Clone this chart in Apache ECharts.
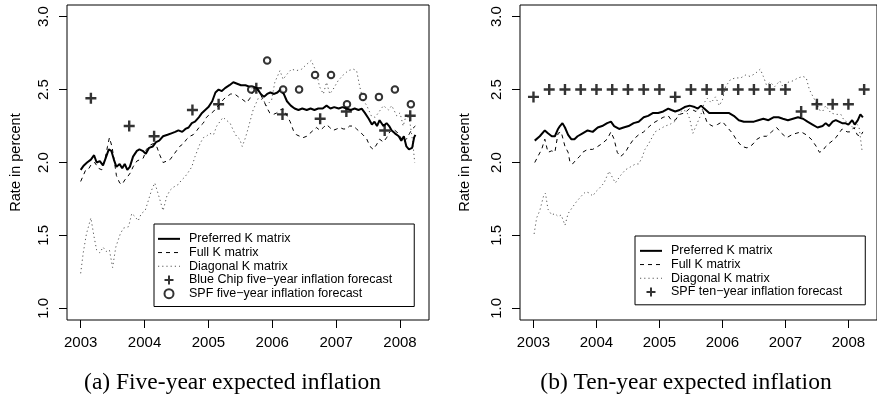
<!DOCTYPE html>
<html><head><meta charset="utf-8">
<script src="https://cdn.jsdelivr.net/npm/echarts@6/dist/echarts.min.js"></script>
<style>html,body{margin:0;padding:0;background:#fff}#c{width:877px;height:396px}</style>
</head><body><div id="c"></div>
<script>
// ---------- tick labels ----------
const xTicks = [2003, 2004, 2005, 2006, 2007, 2008];
const xTickLabels = ['2003', '2004', '2005', '2006', '2007', '2008'];
const yTicks = [1.0, 1.5, 2.0, 2.5, 3.0];
const yTickLabels = ['1.0', '1.5', '2.0', '2.5', '3.0'];

// ---------- panel (a): five-year expected inflation ----------
const prefA = [[2003.00,1.95],[2003.05,1.98],[2003.10,2.00],[2003.16,2.02],[2003.21,2.05],[2003.25,2.00],[2003.30,2.01],[2003.35,1.98],[2003.40,2.04],[2003.44,2.09],[2003.48,2.08],[2003.52,2.02],[2003.56,1.97],[2003.61,1.99],[2003.65,1.96],[2003.69,1.99],[2003.73,1.95],[2003.77,1.97],[2003.82,2.04],[2003.88,2.08],[2003.92,2.09],[2003.97,2.08],[2004.02,2.06],[2004.07,2.10],[2004.13,2.11],[2004.18,2.14],[2004.23,2.15],[2004.29,2.18],[2004.36,2.19],[2004.42,2.20],[2004.48,2.21],[2004.53,2.22],[2004.59,2.21],[2004.64,2.23],[2004.69,2.24],[2004.74,2.27],[2004.79,2.28],[2004.85,2.31],[2004.90,2.34],[2004.95,2.36],[2005.00,2.38],[2005.06,2.42],[2005.11,2.48],[2005.16,2.50],[2005.21,2.49],[2005.26,2.51],[2005.33,2.53],[2005.39,2.55],[2005.45,2.54],[2005.51,2.53],[2005.58,2.53],[2005.64,2.52],[2005.70,2.52],[2005.76,2.51],[2005.82,2.47],[2005.87,2.45],[2005.92,2.47],[2005.97,2.48],[2006.03,2.47],[2006.08,2.48],[2006.13,2.50],[2006.18,2.47],[2006.23,2.42],[2006.29,2.39],[2006.35,2.37],[2006.41,2.36],[2006.47,2.37],[2006.54,2.36],[2006.60,2.37],[2006.66,2.36],[2006.72,2.37],[2006.79,2.37],[2006.85,2.39],[2006.91,2.37],[2006.97,2.38],[2007.04,2.37],[2007.10,2.38],[2007.16,2.37],[2007.23,2.36],[2007.29,2.37],[2007.35,2.36],[2007.40,2.37],[2007.45,2.34],[2007.51,2.30],[2007.56,2.26],[2007.60,2.28],[2007.64,2.25],[2007.68,2.29],[2007.74,2.25],[2007.79,2.27],[2007.83,2.25],[2007.87,2.22],[2007.92,2.20],[2007.98,2.18],[2008.02,2.15],[2008.06,2.18],[2008.10,2.11],[2008.14,2.09],[2008.19,2.10],[2008.22,2.17],[2008.24,2.19]];
const fullA = [[2003.00,1.87],[2003.04,1.91],[2003.08,1.95],[2003.13,1.96],[2003.17,1.99],[2003.22,2.00],[2003.28,1.96],[2003.33,1.95],[2003.38,2.02],[2003.42,2.11],[2003.45,2.17],[2003.49,2.11],[2003.52,2.03],[2003.56,1.91],[2003.61,1.86],[2003.65,1.85],[2003.69,1.88],[2003.73,1.90],[2003.78,1.93],[2003.82,1.97],[2003.88,2.01],[2003.93,2.02],[2003.98,2.03],[2004.03,2.09],[2004.09,2.12],[2004.14,2.13],[2004.19,2.11],[2004.24,2.05],[2004.29,2.00],[2004.35,2.01],[2004.40,2.02],[2004.45,2.05],[2004.50,2.08],[2004.55,2.11],[2004.61,2.13],[2004.66,2.16],[2004.71,2.18],[2004.76,2.19],[2004.82,2.22],[2004.87,2.25],[2004.92,2.27],[2004.97,2.31],[2005.02,2.33],[2005.08,2.35],[2005.13,2.38],[2005.18,2.40],[2005.23,2.43],[2005.28,2.45],[2005.35,2.47],[2005.41,2.47],[2005.47,2.45],[2005.54,2.43],[2005.60,2.41],[2005.65,2.44],[2005.70,2.49],[2005.75,2.51],[2005.81,2.47],[2005.86,2.43],[2005.91,2.38],[2005.96,2.34],[2006.02,2.33],[2006.07,2.34],[2006.12,2.36],[2006.17,2.37],[2006.22,2.33],[2006.28,2.28],[2006.33,2.22],[2006.38,2.19],[2006.43,2.18],[2006.48,2.17],[2006.54,2.18],[2006.59,2.20],[2006.64,2.22],[2006.69,2.24],[2006.75,2.22],[2006.80,2.24],[2006.85,2.26],[2006.90,2.24],[2006.95,2.22],[2007.01,2.23],[2007.06,2.24],[2007.11,2.23],[2007.16,2.23],[2007.21,2.25],[2007.27,2.25],[2007.32,2.23],[2007.37,2.21],[2007.42,2.19],[2007.48,2.16],[2007.53,2.11],[2007.58,2.09],[2007.63,2.12],[2007.68,2.16],[2007.74,2.14],[2007.79,2.17],[2007.84,2.21],[2007.89,2.23],[2007.95,2.21],[2008.00,2.18],[2008.05,2.14],[2008.10,2.16],[2008.15,2.20],[2008.19,2.23],[2008.24,2.25]];
const diagA = [[2003.00,1.24],[2003.04,1.38],[2003.09,1.51],[2003.16,1.62],[2003.21,1.49],[2003.25,1.40],[2003.30,1.38],[2003.35,1.42],[2003.40,1.39],[2003.45,1.40],[2003.50,1.28],[2003.55,1.42],[2003.62,1.51],[2003.67,1.55],[2003.75,1.56],[2003.80,1.65],[2003.85,1.63],[2003.90,1.60],[2003.95,1.65],[2004.01,1.67],[2004.06,1.74],[2004.11,1.81],[2004.16,1.86],[2004.21,1.79],[2004.29,1.67],[2004.35,1.77],[2004.40,1.81],[2004.45,1.83],[2004.53,1.85],[2004.58,1.88],[2004.63,1.90],[2004.68,1.93],[2004.74,1.97],[2004.79,2.04],[2004.87,2.13],[2004.92,2.17],[2004.97,2.18],[2005.02,2.20],[2005.08,2.19],[2005.13,2.25],[2005.18,2.28],[2005.23,2.31],[2005.28,2.29],[2005.34,2.27],[2005.39,2.22],[2005.44,2.18],[2005.49,2.16],[2005.53,2.11],[2005.58,2.17],[2005.62,2.23],[2005.70,2.36],[2005.78,2.44],[2005.86,2.43],[2005.91,2.39],[2005.99,2.43],[2006.04,2.55],[2006.12,2.63],[2006.17,2.57],[2006.22,2.60],[2006.30,2.64],[2006.38,2.63],[2006.46,2.64],[2006.53,2.67],[2006.61,2.70],[2006.69,2.62],[2006.74,2.52],[2006.80,2.47],[2006.85,2.55],[2006.90,2.47],[2006.95,2.50],[2007.03,2.56],[2007.11,2.60],[2007.19,2.63],[2007.27,2.64],[2007.32,2.63],[2007.37,2.52],[2007.42,2.43],[2007.48,2.39],[2007.55,2.32],[2007.61,2.31],[2007.66,2.34],[2007.74,2.39],[2007.82,2.36],[2007.87,2.39],[2007.95,2.32],[2008.00,2.34],[2008.05,2.25],[2008.10,2.33],[2008.15,2.29],[2008.20,2.14],[2008.23,2.00]];
const blueChipA = [[2003.16,2.44],[2003.76,2.25],[2004.15,2.18],[2004.75,2.36],[2005.16,2.40],[2005.75,2.51],[2006.16,2.33],[2006.75,2.30],[2007.16,2.35],[2007.76,2.22],[2008.16,2.32]];
const spfA = [[2005.67,2.50],[2005.92,2.70],[2006.17,2.50],[2006.42,2.50],[2006.67,2.60],[2006.92,2.60],[2007.17,2.40],[2007.42,2.45],[2007.67,2.45],[2007.92,2.50],[2008.17,2.40]];

// ---------- panel (b): ten-year expected inflation ----------
const prefB = [[2003.02,2.15],[2003.10,2.18],[2003.18,2.22],[2003.23,2.20],[2003.29,2.18],[2003.34,2.18],[2003.39,2.23],[2003.42,2.25],[2003.46,2.27],[2003.50,2.24],[2003.55,2.19],[2003.60,2.16],[2003.65,2.16],[2003.70,2.18],[2003.78,2.20],[2003.86,2.22],[2003.94,2.21],[2004.02,2.24],[2004.09,2.25],[2004.17,2.27],[2004.23,2.28],[2004.28,2.25],[2004.36,2.23],[2004.43,2.24],[2004.51,2.25],[2004.59,2.27],[2004.67,2.28],[2004.75,2.31],[2004.82,2.32],[2004.90,2.34],[2004.98,2.34],[2005.06,2.35],[2005.14,2.37],[2005.19,2.36],[2005.25,2.35],[2005.32,2.36],[2005.40,2.38],[2005.48,2.39],[2005.56,2.38],[2005.61,2.37],[2005.66,2.39],[2005.71,2.37],[2005.79,2.34],[2005.87,2.34],[2005.94,2.34],[2006.02,2.34],[2006.10,2.34],[2006.18,2.32],[2006.26,2.29],[2006.34,2.28],[2006.42,2.28],[2006.50,2.28],[2006.57,2.29],[2006.65,2.30],[2006.73,2.29],[2006.81,2.31],[2006.89,2.31],[2006.96,2.30],[2007.04,2.29],[2007.12,2.30],[2007.20,2.31],[2007.28,2.30],[2007.35,2.28],[2007.43,2.26],[2007.51,2.24],[2007.59,2.25],[2007.64,2.27],[2007.69,2.25],[2007.75,2.28],[2007.80,2.29],[2007.85,2.28],[2007.90,2.27],[2007.95,2.27],[2008.00,2.26],[2008.06,2.29],[2008.10,2.26],[2008.15,2.29],[2008.19,2.33],[2008.23,2.31]];
const fullB = [[2003.02,2.00],[2003.08,2.05],[2003.13,2.09],[2003.18,2.16],[2003.23,2.07],[2003.29,2.08],[2003.34,2.07],[2003.39,2.20],[2003.44,2.21],[2003.50,2.11],[2003.55,2.07],[2003.58,2.00],[2003.62,1.99],[2003.68,2.02],[2003.73,2.04],[2003.78,2.07],[2003.86,2.09],[2003.94,2.09],[2004.02,2.11],[2004.09,2.13],[2004.17,2.16],[2004.23,2.21],[2004.28,2.16],[2004.33,2.07],[2004.38,2.04],[2004.46,2.07],[2004.51,2.11],[2004.59,2.16],[2004.67,2.19],[2004.75,2.21],[2004.82,2.24],[2004.90,2.27],[2004.98,2.29],[2005.06,2.31],[2005.14,2.32],[2005.19,2.29],[2005.25,2.29],[2005.32,2.33],[2005.40,2.34],[2005.48,2.37],[2005.53,2.36],[2005.58,2.35],[2005.66,2.39],[2005.71,2.33],[2005.76,2.27],[2005.84,2.25],[2005.92,2.26],[2006.00,2.28],[2006.08,2.24],[2006.16,2.20],[2006.23,2.15],[2006.31,2.11],[2006.39,2.10],[2006.47,2.12],[2006.55,2.16],[2006.63,2.18],[2006.70,2.18],[2006.78,2.21],[2006.86,2.24],[2006.94,2.20],[2007.02,2.17],[2007.10,2.19],[2007.17,2.20],[2007.25,2.21],[2007.33,2.19],[2007.41,2.16],[2007.49,2.11],[2007.54,2.07],[2007.59,2.08],[2007.64,2.11],[2007.69,2.13],[2007.75,2.15],[2007.80,2.17],[2007.85,2.20],[2007.90,2.23],[2007.98,2.21],[2008.03,2.21],[2008.09,2.24],[2008.14,2.19],[2008.19,2.18],[2008.23,2.21]];
const diagB = [[2003.01,1.51],[2003.05,1.62],[2003.10,1.67],[2003.16,1.77],[2003.19,1.79],[2003.23,1.68],[2003.29,1.64],[2003.34,1.65],[2003.39,1.63],[2003.44,1.64],[2003.50,1.57],[2003.55,1.65],[2003.63,1.70],[2003.68,1.73],[2003.76,1.77],[2003.83,1.80],[2003.89,1.79],[2003.94,1.77],[2003.99,1.80],[2004.04,1.82],[2004.12,1.86],[2004.20,1.94],[2004.25,1.90],[2004.30,1.86],[2004.38,1.91],[2004.46,1.95],[2004.54,1.97],[2004.62,1.99],[2004.67,1.99],[2004.72,2.03],[2004.77,2.09],[2004.83,2.13],[2004.88,2.17],[2004.93,2.21],[2005.01,2.23],[2005.09,2.25],[2005.16,2.26],[2005.24,2.28],[2005.32,2.34],[2005.37,2.36],[2005.43,2.35],[2005.48,2.30],[2005.53,2.20],[2005.58,2.25],[2005.66,2.33],[2005.71,2.41],[2005.76,2.44],[2005.82,2.41],[2005.89,2.45],[2005.95,2.39],[2006.00,2.43],[2006.05,2.52],[2006.13,2.57],[2006.21,2.58],[2006.29,2.58],[2006.37,2.60],[2006.44,2.59],[2006.52,2.61],[2006.60,2.64],[2006.65,2.59],[2006.70,2.53],[2006.76,2.55],[2006.83,2.52],[2006.91,2.56],[2006.96,2.52],[2007.04,2.55],[2007.12,2.56],[2007.20,2.58],[2007.28,2.59],[2007.33,2.58],[2007.38,2.50],[2007.44,2.45],[2007.49,2.41],[2007.54,2.36],[2007.59,2.35],[2007.64,2.39],[2007.72,2.34],[2007.80,2.33],[2007.88,2.33],[2007.93,2.29],[2008.01,2.27],[2008.09,2.23],[2008.14,2.26],[2008.17,2.24],[2008.22,2.07]];
const spfB = [[2003.00,2.45],[2003.25,2.50],[2003.50,2.50],[2003.75,2.50],[2004.00,2.50],[2004.25,2.50],[2004.50,2.50],[2004.75,2.50],[2005.00,2.50],[2005.25,2.45],[2005.50,2.50],[2005.75,2.50],[2006.00,2.50],[2006.25,2.50],[2006.50,2.50],[2006.75,2.50],[2007.00,2.50],[2007.25,2.35],[2007.50,2.40],[2007.75,2.40],[2008.00,2.40],[2008.25,2.50]];

// ---------- names / captions ----------
const nPref = 'Preferred K matrix', nFull = 'Full K matrix', nDiag = 'Diagonal K matrix';
const nBlueA = 'Blue Chip five\u2212year inflation forecast';
const nSpfA = 'SPF five\u2212year inflation forecast';
const nSpfB = 'SPF ten\u2212year inflation forecast';
const yTitle = 'Rate in percent';
const capA = '(a) Five-year expected inflation';
const capB = '(b) Ten-year expected inflation';

const PLUS = 'path://M3.9,0H6.1V3.9H10V6.1H6.1V10H3.9V6.1H0V3.9H3.9Z';
const SANS = 'Liberation Sans';
const XMIN = 2002.786, XMAX = 2008.454, YMIN = 0.92, YMAX = 3.08;

function xAx(g) {
  return {
    type: 'value', gridIndex: g, min: XMIN, max: XMAX,
    axisLine: { show: false }, splitLine: { show: false },
    axisTick: { show: true, inside: false, length: 8, customValues: xTicks, lineStyle: { color: '#000', width: 1 } },
    axisLabel: { customValues: xTicks, margin: 15, fontSize: 15, fontFamily: SANS, color: '#000',
      formatter: v => xTickLabels[xTicks.indexOf(Math.round(v))] }
  };
}
function yAx(g) {
  return {
    type: 'value', gridIndex: g, min: YMIN, max: YMAX,
    axisLine: { show: false }, splitLine: { show: false },
    axisTick: { show: true, inside: false, length: 8, customValues: yTicks, lineStyle: { color: '#000', width: 1 } },
    axisLabel: { customValues: yTicks, rotate: 90, margin: 16, fontSize: 15, fontFamily: SANS, color: '#000',
      formatter: v => yTickLabels[yTicks.findIndex(t => Math.abs(t - v) < 1e-6)] }
  };
}
function lineS(name, data, g, style) {
  return { type: 'line', name, data, xAxisIndex: g, yAxisIndex: g, symbol: 'none', showSymbol: false,
    lineStyle: style, itemStyle: { color: style.color }, silent: true, z: 2 };
}
const solid = { color: '#000', width: 2, type: 'solid' };
const dashed = { color: '#000', width: 1, type: [4, 4] };
const dotted = { color: '#555', width: 1, type: [1.2, 3] };

function lineItem(name) { return { name, itemStyle: { opacity: 0 } }; }
function legendBox(left, top, names, pad) {
  return {
    orient: 'vertical', left, top, data: names, padding: pad,
    borderColor: '#000', borderWidth: 1, backgroundColor: '#fff',
    itemWidth: 22, itemHeight: 9, itemGap: 0, selectedMode: false,
    lineStyle: { width: 'inherit' },
    textStyle: { fontSize: 12.5, fontFamily: SANS, color: '#000', lineHeight: 13.7, padding: [0, 0, 0, 4] }
  };
}

const option = {
  animation: false,
  backgroundColor: '#fff',
  grid: [
    { left: 67, top: 5, width: 362, height: 315, show: true, borderColor: '#000', borderWidth: 1, backgroundColor: 'transparent' },
    { left: 520, top: 5, width: 362, height: 315, show: true, borderColor: '#000', borderWidth: 1, backgroundColor: 'transparent' }
  ],
  xAxis: [xAx(0), xAx(1)],
  yAxis: [yAx(0), yAx(1)],
  legend: [
    legendBox(154, 224, [lineItem(nPref), lineItem(nFull), lineItem(nDiag), nBlueA, nSpfA], [8, 22, 6, 3]),
    legendBox(635, 236, [lineItem(nPref), lineItem(nFull), lineItem(nDiag), nSpfB], [8, 23, 6, 4])
  ],
  series: [
    lineS(nDiag, diagA, 0, dotted),
    lineS(nFull, fullA, 0, dashed),
    lineS(nPref, prefA, 0, solid),
    { type: 'scatter', name: nBlueA, data: blueChipA, xAxisIndex: 0, yAxisIndex: 0, symbol: PLUS, symbolSize: 11,
      itemStyle: { color: '#000' }, silent: true, z: 3 },
    { type: 'scatter', name: nSpfA, data: spfA, xAxisIndex: 0, yAxisIndex: 0, symbol: 'emptyCircle', symbolSize: 6.5,
      itemStyle: { color: '#000', borderColor: '#000', borderWidth: 2.4 }, silent: true, z: 3 },
    lineS(nDiag, diagB, 1, dotted),
    lineS(nFull, fullB, 1, dashed),
    lineS(nPref, prefB, 1, solid),
    { type: 'scatter', name: nSpfB, data: spfB, xAxisIndex: 1, yAxisIndex: 1, symbol: PLUS, symbolSize: 11,
      itemStyle: { color: '#000' }, silent: true, z: 3 }
  ],
  graphic: [
    { type: 'text', x: 16, y: 162.5, rotation: Math.PI / 2,
      style: { text: yTitle, font: '14.5px "Liberation Sans"', fill: '#000', align: 'center', verticalAlign: 'middle' } },
    { type: 'text', x: 465, y: 162.5, rotation: Math.PI / 2,
      style: { text: yTitle, font: '14.5px "Liberation Sans"', fill: '#000', align: 'center', verticalAlign: 'middle' } },
    { type: 'text', x: 232.5, y: 383,
      style: { text: capA, font: '23.5px "Liberation Serif"', fill: '#000', align: 'center', verticalAlign: 'middle' } },
    { type: 'text', x: 686, y: 383,
      style: { text: capB, font: '23.5px "Liberation Serif"', fill: '#000', align: 'center', verticalAlign: 'middle' } }
  ]
};
const chart = echarts.init(document.getElementById('c'), null, { renderer: 'canvas' });
chart.setOption(option);
</script>
</body></html>
